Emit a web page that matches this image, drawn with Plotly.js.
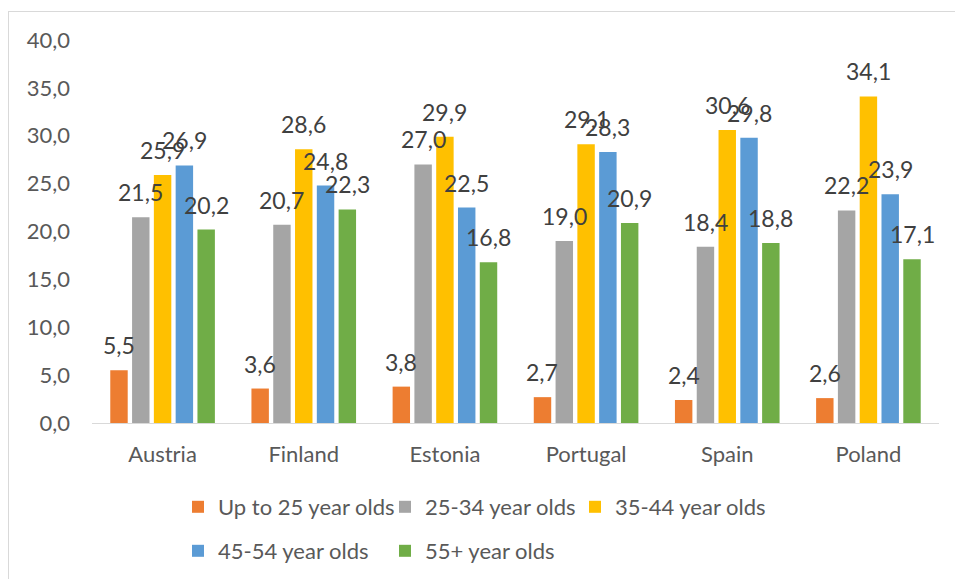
<!DOCTYPE html>
<html>
<head>
<meta charset="utf-8">
<script src="https://cdn.plot.ly/plotly-3.0.1.min.js"></script>
<style>
  html, body { margin: 0; padding: 0; background: #fff; }
  #frame { position: absolute; left: 8px; top: 11px; width: 947px; height: 568px;
           border-left: 1px solid #d9d9d9; border-top: 1px solid #d9d9d9; }
  #chart { width: 946px; height: 567px; }
</style>
</head>
<body>
<div id="frame"><div id="chart"></div></div>
<script>
const countries = ["Austria", "Finland", "Estonia", "Portugal", "Spain", "Poland"];
const seriesNames = ["Up to 25 year olds", "25-34 year olds", "35-44 year olds", "45-54 year olds", "55+ year olds"];
const upTo25 = [5.5, 3.6, 3.8, 2.7, 2.4, 2.6];
const age25_34 = [21.5, 20.7, 27.0, 19.0, 18.4, 22.2];
const age35_44 = [25.9, 28.6, 29.9, 29.1, 30.6, 34.1];
const age45_54 = [26.9, 24.8, 22.5, 28.3, 29.8, 23.9];
const age55plus = [20.2, 22.3, 16.8, 20.9, 18.8, 17.1];
const yTicks = [0, 5, 10, 15, 20, 25, 30, 35, 40];

const allSeries = [upTo25, age25_34, age35_44, age45_54, age55plus];
const colors = ["#ED7D31", "#A5A5A5", "#FFC000", "#5B9BD5", "#70AD47"];
const legendIds = ["legend", "legend2", "legend3", "legend4", "legend5"];
const FONT = "Lato, 'Open Sans', sans-serif";

const traces = allSeries.map((vals, i) => ({
  type: "bar",
  name: seriesNames[i],
  x: countries,
  y: vals,
  legend: legendIds[i],
  marker: { color: colors[i], line: { width: 0 } },
  hoverinfo: "x+y+name"
}));

// data labels placed above bar tops (Excel style)
const slot = 21.8;
const annotations = [];
allSeries.forEach((vals, i) => {
  vals.forEach((v, j) => {
    annotations.push({
      x: countries[j], y: v, xref: "x", yref: "y",
      text: v.toFixed(1).replace(".", ","),
      showarrow: false, xanchor: "center", yanchor: "middle",
      xshift: (i - 2) * slot, yshift: 25,
      font: { family: FONT, size: 23, color: "#404040" }
    });
  });
});

// legend placement in container coords (chart is 946 x 567, offset 9,12 in page)
const W = 946, H = 567, OX = 9, OY = 12;
const legPos = [
  { px: 178, py: 507 }, { px: 385, py: 507 }, { px: 575, py: 507 },
  { px: 178, py: 551 }, { px: 385, py: 551 }
];
function legendDef(p) {
  return {
    orientation: "h",
    xref: "container", yref: "container",
    x: (p.px - OX) / W, xanchor: "left",
    y: 1 - (p.py - OY) / H, yanchor: "middle",
    font: { family: FONT, size: 22, color: "#595959" },
    bgcolor: "rgba(0,0,0,0)", borderwidth: 0
  };
}

const layout = {
  width: W, height: H,
  margin: { l: 83, r: 16, t: 28, b: 156 },
  paper_bgcolor: "#ffffff", plot_bgcolor: "#ffffff",
  separators: ", ",
  barmode: "group",
  bargap: 0.228,
  bargroupgap: 0.2,
  font: { family: FONT, size: 22, color: "#595959" },
  xaxis: {
    type: "category",
    showgrid: false, zeroline: false,
    showline: true, linecolor: "#d9d9d9", linewidth: 1,
    ticks: "", ticklabelstandoff: 12,
    tickfont: { family: FONT, size: 22, color: "#595959" }
  },
  yaxis: {
    range: [0, 40],
    tickvals: yTicks,
    tickformat: ".1f",
    showgrid: false, zeroline: false, showline: false,
    ticks: "", ticklabelstandoff: 21,
    tickfont: { family: FONT, size: 22, color: "#595959" }
  },
  showlegend: true,
  legend: legendDef(legPos[0]),
  legend2: legendDef(legPos[1]),
  legend3: legendDef(legPos[2]),
  legend4: legendDef(legPos[3]),
  legend5: legendDef(legPos[4]),
  annotations: annotations
};

Plotly.newPlot("chart", traces, layout, { displayModeBar: false, staticPlot: true });
</script>
</body>
</html>
